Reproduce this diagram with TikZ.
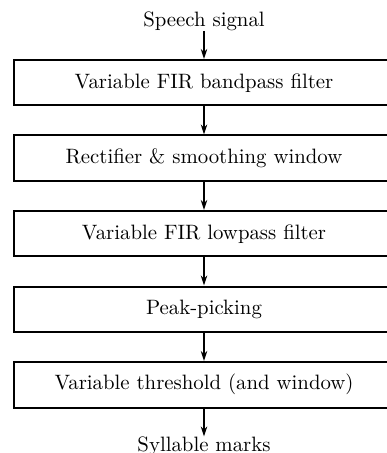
\documentclass[tikz,border=0pt]{standalone}
\usepackage{tikz}
\usetikzlibrary{positioning,arrows.meta}

\tikzset{
  stage/.style={draw, line width=1pt, minimum width=190pt, minimum height=22.75pt, inner sep=0pt},
  sig/.style={inner sep=0pt},
  flow/.style={line width=0.8pt, -{Stealth[length=5pt,width=3.2pt]}}
}

\begin{document}
\begin{tikzpicture}[x=0.5pt, y=-0.5pt, node distance=14pt,
  every node/.append style={font=\fontsize{10.4}{12}\selectfont}]

% Page frame (coordinates in pixels, y pointing down)
\useasboundingbox (0,0) rectangle (386,453);

% Processing stages
\node[stage] (bp) at (204,82.75) {Variable FIR bandpass filter};
\node[stage, below=of bp] (rect) {Rectifier \& smoothing window};
\node[stage, below=of rect] (lp) {Variable FIR lowpass filter};
\node[stage, below=of lp] (peak) {Peak-picking};
\node[stage, below=of peak] (thr) {Variable threshold (and window)};

% Input and output
\node[sig, above=of bp] (in) {Speech signal};
\node[sig, below=of thr] (out) {Syllable marks};

% Draw the arrows between stages
\draw[flow] (in) -- (bp);
\draw[flow] (bp) -- (rect);
\draw[flow] (rect) -- (lp);
\draw[flow] (lp) -- (peak);
\draw[flow] (peak) -- (thr);
\draw[flow] (thr) -- (out);

\end{tikzpicture}
\end{document}
